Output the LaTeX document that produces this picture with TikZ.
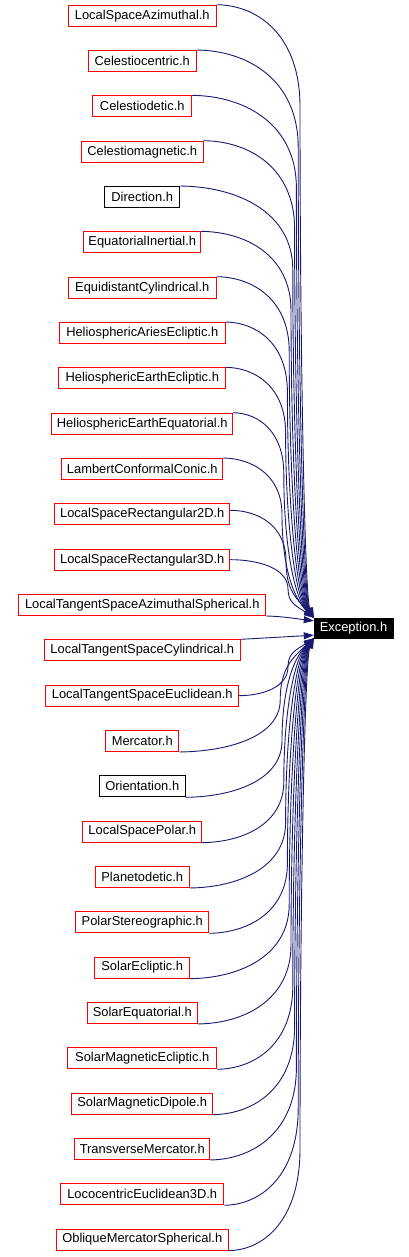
\documentclass[tikz,border=0pt]{standalone}
\usepackage{fontspec}
\setmainfont{Liberation Sans}
\usetikzlibrary{arrows.meta}
\definecolor{edgeblue}{HTML}{191970}
\definecolor{boxred}{HTML}{FF0000}
\tikzset{
  hbox/.style={draw, line width=1pt, fill=white, inner xsep=1pt, inner ysep=0pt,
    minimum height=21, font=\fontsize{12.9}{15}\selectfont, text=black},
  edge/.style={draw=edgeblue, line width=0.9pt, -{Triangle[length=10pt,width=7pt]}},
}
\newcommand\upedge[5]{%
 \pgfmathsetmacro\eDD{618-#3}%
 \pgfmathsetmacro\eHH{min(40+0.1*\eDD,0.5*\eDD)}%
 \pgfmathsetmacro\eCXA{#2+0.5*(#4-#2)}%
 \pgfmathsetmacro\eMY{#3+\eHH}%
 \pgfmathsetmacro\eCYB{#3+0.3*\eHH}%
 \pgfmathsetmacro\eCYC{\eMY+0.5*(618-\eMY)}%
 \pgfmathsetmacro\eCXD{#4+0.35*(314-#4)}%
 \pgfmathsetmacro\eCYD{618-min(20,0.4*(618-\eMY))}%
 \draw[edge] #1 .. controls (\eCXA,#3) and (#4,\eCYB) .. (#4,\eMY) .. controls (#4,\eCYC) and (\eCXD,\eCYD) .. #5;
}
\newcommand\downedge[5]{%
 \pgfmathsetmacro\eDD{#3-638}%
 \pgfmathsetmacro\eHH{min(40+0.1*\eDD,0.5*\eDD)}%
 \pgfmathsetmacro\eCXA{#2+0.5*(#4-#2)}%
 \pgfmathsetmacro\eMY{#3-\eHH}%
 \pgfmathsetmacro\eCYB{#3-0.3*\eHH}%
 \pgfmathsetmacro\eCYC{\eMY-0.5*(\eMY-638)}%
 \pgfmathsetmacro\eCXD{#4+0.35*(314-#4)}%
 \pgfmathsetmacro\eCYD{638+min(20,0.4*(\eMY-638))}%
 \draw[edge] #1 .. controls (\eCXA,#3) and (#4,\eCYB) .. (#4,\eMY) .. controls (#4,\eCYC) and (\eCXD,\eCYD) .. #5;
}
\begin{document}
\begin{tikzpicture}[x=1pt,y=-1pt]
\useasboundingbox (0,0) rectangle (409,1257);
\node[fill=black, draw=black, text=white, inner sep=0pt, minimum width=79, minimum height=20,
  font=\fontsize{12.9}{15}\selectfont] (exc) at (353.5,628) {Exception.h};
\foreach \t/\w/\c [count=\i from 0] in {
 LocalSpaceAzimuthal.h/148/boxred,
 Celestiocentric.h/108/boxred,
 Celestiodetic.h/99/boxred,
 Celestiomagnetic.h/122/boxred,
 Direction.h/75/black,
 EquatorialInertial.h/117/boxred,
 EquidistantCylindrical.h/148/boxred,
 HeliosphericAriesEcliptic.h/166/boxred,
 HeliosphericEarthEcliptic.h/167/boxred,
 HeliosphericEarthEquatorial.h/181/boxred,
 LambertConformalConic.h/161/boxred,
 LocalSpaceRectangular2D.h/175/boxred,
 LocalSpaceRectangular3D.h/175/boxred,
 LocalTangentSpaceAzimuthalSpherical.h/247/boxred,
 LocalTangentSpaceCylindrical.h/196/boxred,
 LocalTangentSpaceEuclidean.h/193/boxred,
 Mercator.h/73/boxred,
 Orientation.h/86/black,
 LocalSpacePolar.h/119/boxred,
 Planetodetic.h/94/boxred,
 PolarStereographic.h/133/boxred,
 SolarEcliptic.h/95/boxred,
 SolarEquatorial.h/110/boxred,
 SolarMagneticEcliptic.h/149/boxred,
 SolarMagneticDipole.h/141/boxred,
 TransverseMercator.h/135/boxred,
 LococentricEuclidean3D.h/163/boxred,
 ObliqueMercatorSpherical.h/172/boxred}
{
  \node[hbox, draw=\c, minimum width=\w] (n\i) at (142.25,{15.7+45.33*\i}) {\t};
  \pgfmathsetmacro\ex{142.25+\w/2}
  \pgfmathsetmacro\cy{15.7+45.33*\i}
  \ifnum\i<11
    \pgfmathsetmacro\sy{\cy-10.5}
    \pgfmathsetmacro\xv{300-1.8*\i}
    \upedge{(n\i.north east)}{\ex}{\sy}{\xv}{(exc.north west)}
  \fi
  \ifnum\i>15
    \pgfmathsetmacro\sy{\cy+10.5}
    \pgfmathsetmacro\xv{300-1.8*(27-\i)}
    \downedge{(n\i.south east)}{\ex}{\sy}{\xv}{(exc.south west)}
  \fi
}
\upedge{([yshift=4pt]n11.east)}{230}{510.3}{286}{(exc.north west)}
\upedge{(n12.east)}{230}{559.7}{288}{(exc.north west)}
\draw[edge] (n13.south east) .. controls (285,616.5) and (298,619) .. ([yshift=-3pt]exc.north west);
\draw[edge] (n14.north east) -- ([yshift=3pt]exc.south west);
\downedge{(n15.east)}{238}{695.6}{288}{(exc.south west)}
\end{tikzpicture}
\end{document}
